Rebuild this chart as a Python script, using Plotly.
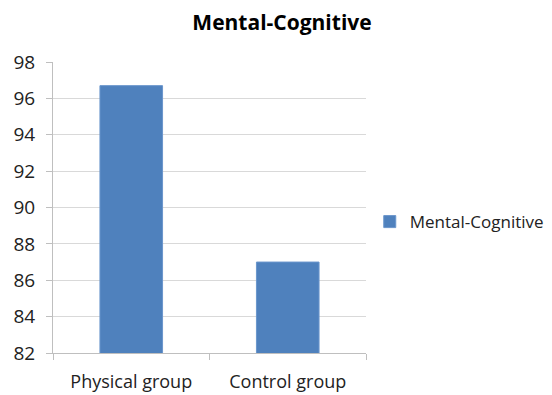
import plotly.graph_objects as go

categories = ["Physical group", "Control group"]
values = [96.7, 87.0]
series_name = "Mental-Cognitive"
y_ticks = [82, 84, 86, 88, 90, 92, 94, 96, 98]

font_family = "Open Sans, Noto Sans, sans-serif"

fig = go.Figure()
fig.add_trace(go.Bar(
    x=categories, y=values, name=series_name,
    marker=dict(color="#4F81BD", line=dict(color="#6A96CC", width=1)),
    showlegend=True,
))

fig.update_layout(
    width=552, height=395,
    margin=dict(l=53, r=186, t=62, b=42, autoexpand=False),
    paper_bgcolor="white", plot_bgcolor="white",
    bargap=0.6,
    title=dict(text="<b>Mental-Cognitive</b>", x=282/552, xanchor="center",
               y=1-23/395, yanchor="middle",
               font=dict(family=font_family, size=21, color="#000000")),
    font=dict(family=font_family, size=18, color="#222222"),
    showlegend=True,
    legend=dict(x=1.012, xanchor="left", y=0.45, yanchor="middle",
                font=dict(family=font_family, size=17, color="#222222"),
                itemwidth=30, bgcolor="rgba(0,0,0,0)"),
)
fig.update_xaxes(
    type="category", tickson="boundaries", ticks="outside", ticklen=6,
    tickcolor="#BFBFBF", showline=True, linecolor="#BFBFBF", linewidth=1,
    showgrid=False, tickfont=dict(size=18, color="#222222"),
    ticklabelstandoff=12,
)
fig.update_yaxes(
    range=[82, 98], tickvals=y_ticks, ticks="outside", ticklen=6,
    tickcolor="#BFBFBF", showline=True, linecolor="#BFBFBF", linewidth=1,
    showgrid=True, gridcolor="#D9D9D9", gridwidth=1, zeroline=False,
    tickfont=dict(size=19, color="#222222"),
    ticklabelstandoff=7,
)

fig.write_html("out.html")
